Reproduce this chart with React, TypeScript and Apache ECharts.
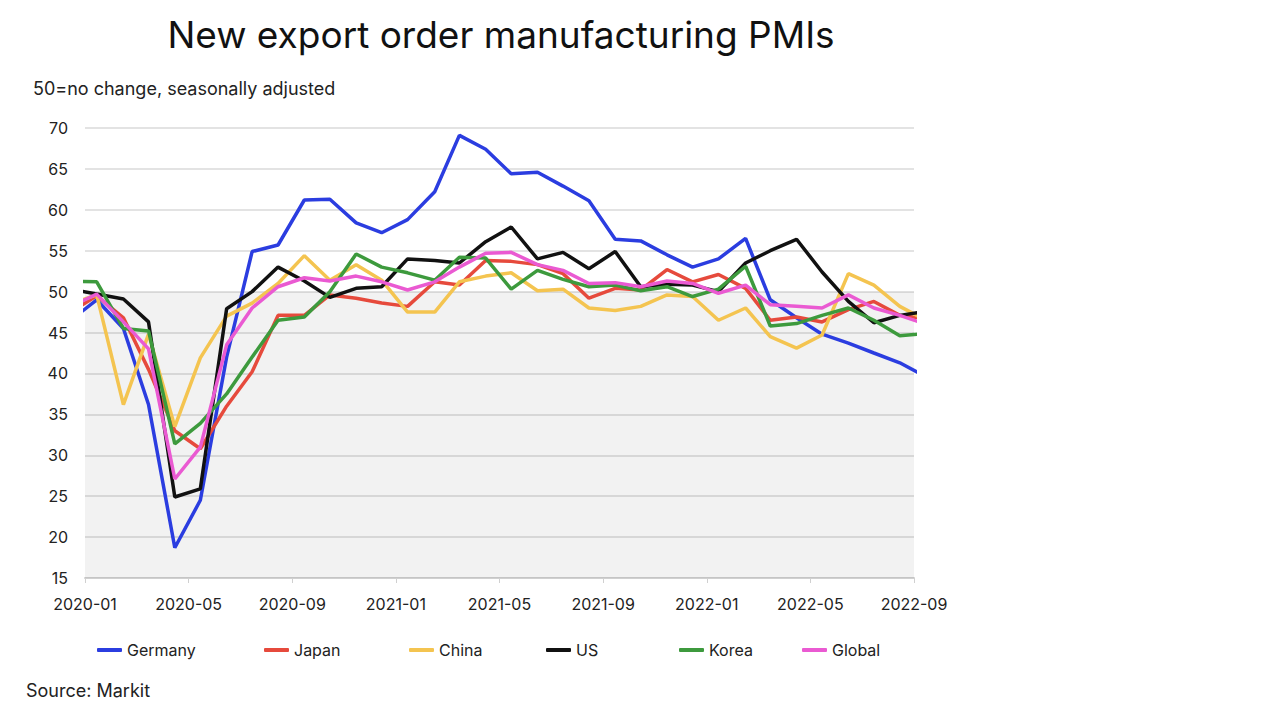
import React, { useEffect, useRef } from "react";
import * as echarts from "echarts";

// Observation dates (monthly readings, plotted mid-month)
const dates = [
  "2019-12-15",
  "2020-01-15", "2020-02-15", "2020-03-15", "2020-04-15", "2020-05-15", "2020-06-15",
  "2020-07-15", "2020-08-15", "2020-09-15", "2020-10-15", "2020-11-15", "2020-12-15",
  "2021-01-15", "2021-02-15", "2021-03-15", "2021-04-15", "2021-05-15", "2021-06-15",
  "2021-07-15", "2021-08-15", "2021-09-15", "2021-10-15", "2021-11-15", "2021-12-15",
  "2022-01-15", "2022-02-15", "2022-03-15", "2022-04-15", "2022-05-15", "2022-06-15",
  "2022-07-15", "2022-08-15", "2022-09-15",
];

const germany = [46.5,
  49.0, 45.5, 36.2, 18.7, 24.5, 42.0, 54.9, 55.7, 61.2, 61.3, 58.4, 57.2,
  58.8, 62.2, 69.1, 67.4, 64.4, 64.6, 62.9, 61.1, 56.4, 56.2, 54.5, 53.0,
  54.0, 56.5, 49.0, 46.8, 44.8, 43.7, 42.5, 41.3, 39.6];
const japan = [47.5,
  49.5, 46.8, 40.5, 33.0, 30.8, 36.0, 40.2, 47.1, 47.1, 49.6, 49.2, 48.6,
  48.2, 51.2, 50.8, 53.8, 53.7, 53.3, 52.2, 49.2, 50.4, 50.2, 52.7, 51.2,
  52.1, 50.4, 46.5, 46.9, 46.3, 47.8, 48.8, 47.1, 46.7];
const china = [48.5,
  49.6, 36.2, 44.8, 33.5, 41.9, 47.0, 48.6, 51.0, 54.4, 51.4, 53.3, 51.4,
  47.5, 47.5, 51.2, 51.9, 52.3, 50.1, 50.3, 48.0, 47.7, 48.2, 49.6, 49.4,
  46.5, 48.0, 44.5, 43.1, 44.7, 52.2, 50.8, 48.2, 46.5];
const us = [50.3,
  49.7, 49.1, 46.3, 24.9, 25.9, 47.9, 50.0, 53.0, 51.3, 49.3, 50.4, 50.6,
  54.0, 53.8, 53.5, 56.1, 57.9, 54.0, 54.8, 52.8, 54.9, 50.6, 50.9, 50.8,
  50.0, 53.5, 55.0, 56.4, 52.4, 48.8, 46.2, 47.1, 47.6];
const korea = [51.3,
  51.2, 45.5, 45.2, 31.4, 33.9, 37.5, 42.0, 46.5, 46.9, 50.0, 54.6, 53.0,
  52.3, 51.4, 54.2, 54.1, 50.3, 52.6, 51.5, 50.6, 50.8, 50.1, 50.6, 49.4,
  50.3, 53.1, 45.8, 46.1, 47.1, 48.0, 46.5, 44.6, 44.9];
const global = [48.2,
  49.7, 46.3, 43.0, 27.1, 31.0, 43.5, 48.0, 50.6, 51.7, 51.3, 51.9, 51.2,
  50.2, 51.2, 53.0, 54.7, 54.8, 53.3, 52.6, 51.0, 51.1, 50.6, 51.3, 51.0,
  49.8, 50.8, 48.4, 48.2, 48.0, 49.6, 48.0, 47.1, 46.0];

const seriesNames = ["Germany", "Japan", "China", "US", "Korea", "Global"];
const seriesValues = [germany, japan, china, us, korea, global];
const seriesColors = ["#2b3de0", "#e64a3c", "#f4c450", "#111111", "#3d9a3d", "#ea5ad2"];

const axisStart = { year: 2020, month: 1 };
const axisMonths = 32; // 2020-01 .. 2022-09
const tickEvery = 4;
const yMin = 15, yMax = 70, yStep = 5;
const neutralLevel = 50;

const FONT = "Inter, 'Liberation Sans', Arial, sans-serif";

function dateToMonthPos(s: string): number {
  const [y, m, d] = s.split("-").map(Number);
  const dim = new Date(y, m, 0).getDate();
  return (y - axisStart.year) * 12 + (m - axisStart.month) + (d - 1) / dim;
}

function monthLabel(v: number): string {
  const total = axisStart.month - 1 + Math.round(v);
  const y = axisStart.year + Math.floor(total / 12);
  const m = (total % 12) + 1;
  return `${y}-${m < 10 ? "0" + m : m}`;
}

export default function App() {
  const ref = useRef<HTMLDivElement>(null);
  useEffect(() => {
    document.body.style.margin = "0";
    const chart = echarts.init(ref.current!, null, { renderer: "svg" });
    const xs = dates.map(dateToMonthPos);
    const legendLefts = [97, 264, 409, 546, 679, 802];
    chart.setOption({
      animation: false,
      backgroundColor: "#ffffff",
      textStyle: { fontFamily: FONT },
      title: [
        {
          text: "New export order manufacturing PMIs",
          left: 501, top: 16, textAlign: "center", padding: 0,
          textStyle: { fontSize: 37, fontWeight: "normal", color: "#111", fontFamily: FONT },
        },
        {
          text: "50=no change, seasonally adjusted",
          left: 33, top: 79, padding: 0,
          textStyle: { fontSize: 18, fontWeight: "normal", color: "#222", fontFamily: FONT },
        },
        {
          text: "Source: Markit",
          left: 26, top: 681, padding: 0,
          textStyle: { fontSize: 18, fontWeight: "normal", color: "#222", fontFamily: FONT },
        },
      ],
      legend: seriesNames.map((n, i) => ({
        data: [n],
        left: legendLefts[i],
        top: 642,
        padding: 0,
        icon: "roundRect",
        itemWidth: 25,
        itemHeight: 4,
        itemGap: 0,
        textStyle: { fontSize: 16, color: "#222", fontFamily: FONT },
        selectedMode: false,
      })),
      grid: { left: 85, right: 366, top: 128, bottom: 142 },
      xAxis: {
        type: "value",
        min: 0,
        max: axisMonths,
        interval: tickEvery,
        axisLine: { show: true, lineStyle: { color: "#d0d0d0", width: 2 } },
        axisTick: { show: true, length: 5, lineStyle: { color: "#d0d0d0", width: 1 } },
        axisLabel: { formatter: monthLabel, fontSize: 16, color: "#222", margin: 18, fontFamily: FONT },
        splitLine: { show: false },
      },
      yAxis: {
        type: "value",
        min: yMin,
        max: yMax,
        interval: yStep,
        axisLine: { show: false },
        axisTick: { show: false },
        axisLabel: { fontSize: 16, color: "#222", margin: 17, fontFamily: FONT },
        splitLine: { lineStyle: { color: "#e3e3e3", width: 2 } },
      },
      series: seriesNames.map((n, i) => ({
        name: n,
        type: "line",
        data: seriesValues[i].map((v, j) => [xs[j], v]),
        showSymbol: false,
        symbol: "none",
        clip: true,
        lineStyle: { color: seriesColors[i], width: 3.5 },
        itemStyle: { color: seriesColors[i] },
        z: 3 + i,
        markArea: i === 0 ? {
          silent: true,
          itemStyle: { color: "rgba(0,0,0,0.05)" },
          data: [[{ yAxis: yMin }, { yAxis: neutralLevel }]],
        } : undefined,
      })),
    });
    return () => chart.dispose();
  }, []);
  return <div ref={ref} style={{ position: "fixed", left: 0, top: 0, width: 1280, height: 720 }} />;
}
